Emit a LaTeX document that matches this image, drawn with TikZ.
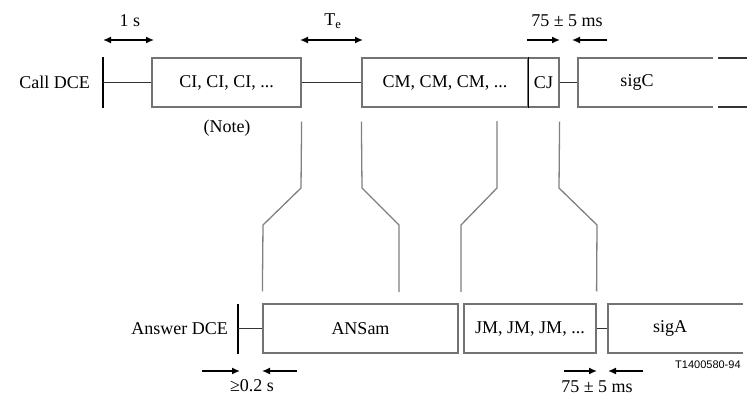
\documentclass[tikz,border=0pt]{standalone}
\usepackage{fontspec}
\setmainfont{Liberation Serif}
\newfontfamily\tagfont{Liberation Sans}
\usetikzlibrary{arrows.meta,calc}
\tikzset{
  box/.style={draw=black!55, line width=1.2pt, minimum height=49pt, inner sep=0pt, font=\fontsize{18}{20}\selectfont},
  lbl/.style={font=\fontsize{18}{20}\selectfont, inner sep=0pt},
  bar/.style={draw=black, line width=1.4pt},
  link/.style={draw=black!80, line width=1.2pt},
  funnel/.style={draw=black!50, line width=1.3pt},
  dim/.style={line width=1.5pt, -{Latex[length=8pt,width=7pt]}},
  dimboth/.style={line width=1.5pt, {Latex[length=8pt,width=7pt]}-{Latex[length=8pt,width=7pt]}}
}
\begin{document}
\begin{tikzpicture}[x=1pt,y=-1pt]
\useasboundingbox (0,0) rectangle (748,397);
% ---------- top row: Call DCE ----------
\node[lbl, anchor=east] (calllbl) at (90,82.5) {Call DCE};
\coordinate (cbar) at (103,82.5);
\draw[bar] ($(cbar)+(0,-25.5)$) -- ($(cbar)+(0,25.5)$);
\node[box, minimum width=149pt] (ci) at (226.5,82.5) {CI, CI, CI, ...};
\node[box, minimum width=166pt] (cm) at (445,82.5) {CM, CM, CM, ...};
\node[box, minimum width=31pt] (cj) at (543.5,82.5) {CJ};
\draw[bar] (cm.north east) -- (cm.south east);
\draw[link] (cbar) -- (ci.west);
\draw[link] (ci.east) -- (cm.west);
\coordinate (sigcl) at (578,82.5);
\draw[link] (cj.east) -- (sigcl);
\draw[draw=black!55, line width=1.2pt] (713,58) -- (578,58) -- (578,107) -- (713,107);
\node[lbl] (sigc) at (637,82.5) {sigC};
\coordinate (cendt) at (747,58);
\coordinate (cendb) at (747,107);
\draw[link] (718,58) -- (cendt);
\draw[link] (718,107) -- (cendb);
\node[lbl] (note) at (227,128) {(Note)};
% top dimension marks
\coordinate (d1a) at (103,40); \coordinate (d1b) at (154,40);
\draw[dimboth] (d1a) -- (d1b);
\node[lbl] (onesec) at (130,21) {1 s};
\coordinate (d2a) at (300,40); \coordinate (d2b) at (363,40);
\draw[dimboth] (d2a) -- (d2b);
\node[lbl] (te) at (333,21) {T\textsubscript{e}};
\coordinate (d3a) at (527,40); \coordinate (d3b) at (560,40);
\coordinate (d3c) at (607,40); \coordinate (d3d) at (572,40);
\draw[dim] (d3a) -- (d3b);
\draw[dim] (d3c) -- (d3d);
\node[lbl] (ms1) at (567,21) {75 ± 5 ms};
% ---------- bottom row: Answer DCE ----------
\node[lbl, anchor=east] (anslbl) at (228,328.5) {Answer DCE};
\coordinate (abar) at (238,328.5);
\draw[bar] ($(abar)+(0,-25)$) -- ($(abar)+(0,25)$);
\node[box, minimum width=195pt] (ans) at (360.5,328.5) {ANSam};
\node[box, minimum width=132pt] (jm) at (530,328.5) {JM, JM, JM, ...};
\draw[link] (abar) -- (ans.west);
\coordinate (sigal) at (608,328.5);
\draw[link] (jm.east) -- (sigal);
\draw[draw=black!55, line width=1.2pt] (743,304) -- (608,304) -- (608,353) -- (743,353);
\node[lbl] (siga) at (670,328.5) {sigA};
\node[font=\tagfont\fontsize{11}{12}\selectfont, anchor=west, inner sep=0pt] (tag) at (675,365) {T1400580-94};
% bottom dimension marks
\coordinate (e1a) at (202,371); \coordinate (e1b) at (240,371);
\coordinate (e1c) at (297,371); \coordinate (e1d) at (262,371);
\draw[dim] (e1a) -- (e1b);
\draw[dim] (e1c) -- (e1d);
\node[lbl] (geq) at (252,386) {≥0.2 s};
\coordinate (e2a) at (564,371); \coordinate (e2b) at (597,371);
\coordinate (e2c) at (643,371); \coordinate (e2d) at (608,371);
\draw[dim] (e2a) -- (e2b);
\draw[dim] (e2c) -- (e2d);
\node[lbl] (ms2) at (597,387) {75 ± 5 ms};
% ---------- funnel lines ----------
\draw[funnel] ($(ci.south east)+(0,14)$) -- (301,188) -- (263,225) -- ($(ans.north west)+(0,-12)$);
\draw[funnel] ($(cm.south west)+(0,14)$) -- (362,188) -- (399,225) -- (399,292);
\draw[funnel] (497,121) -- (497,188) -- (461,225) -- (461,292);
\draw[funnel] ($(cj.south east)+(0,14)$) -- (559,188) -- (597,225) -- ($(jm.north east)+(0,-12)$);
\end{tikzpicture}
\end{document}
